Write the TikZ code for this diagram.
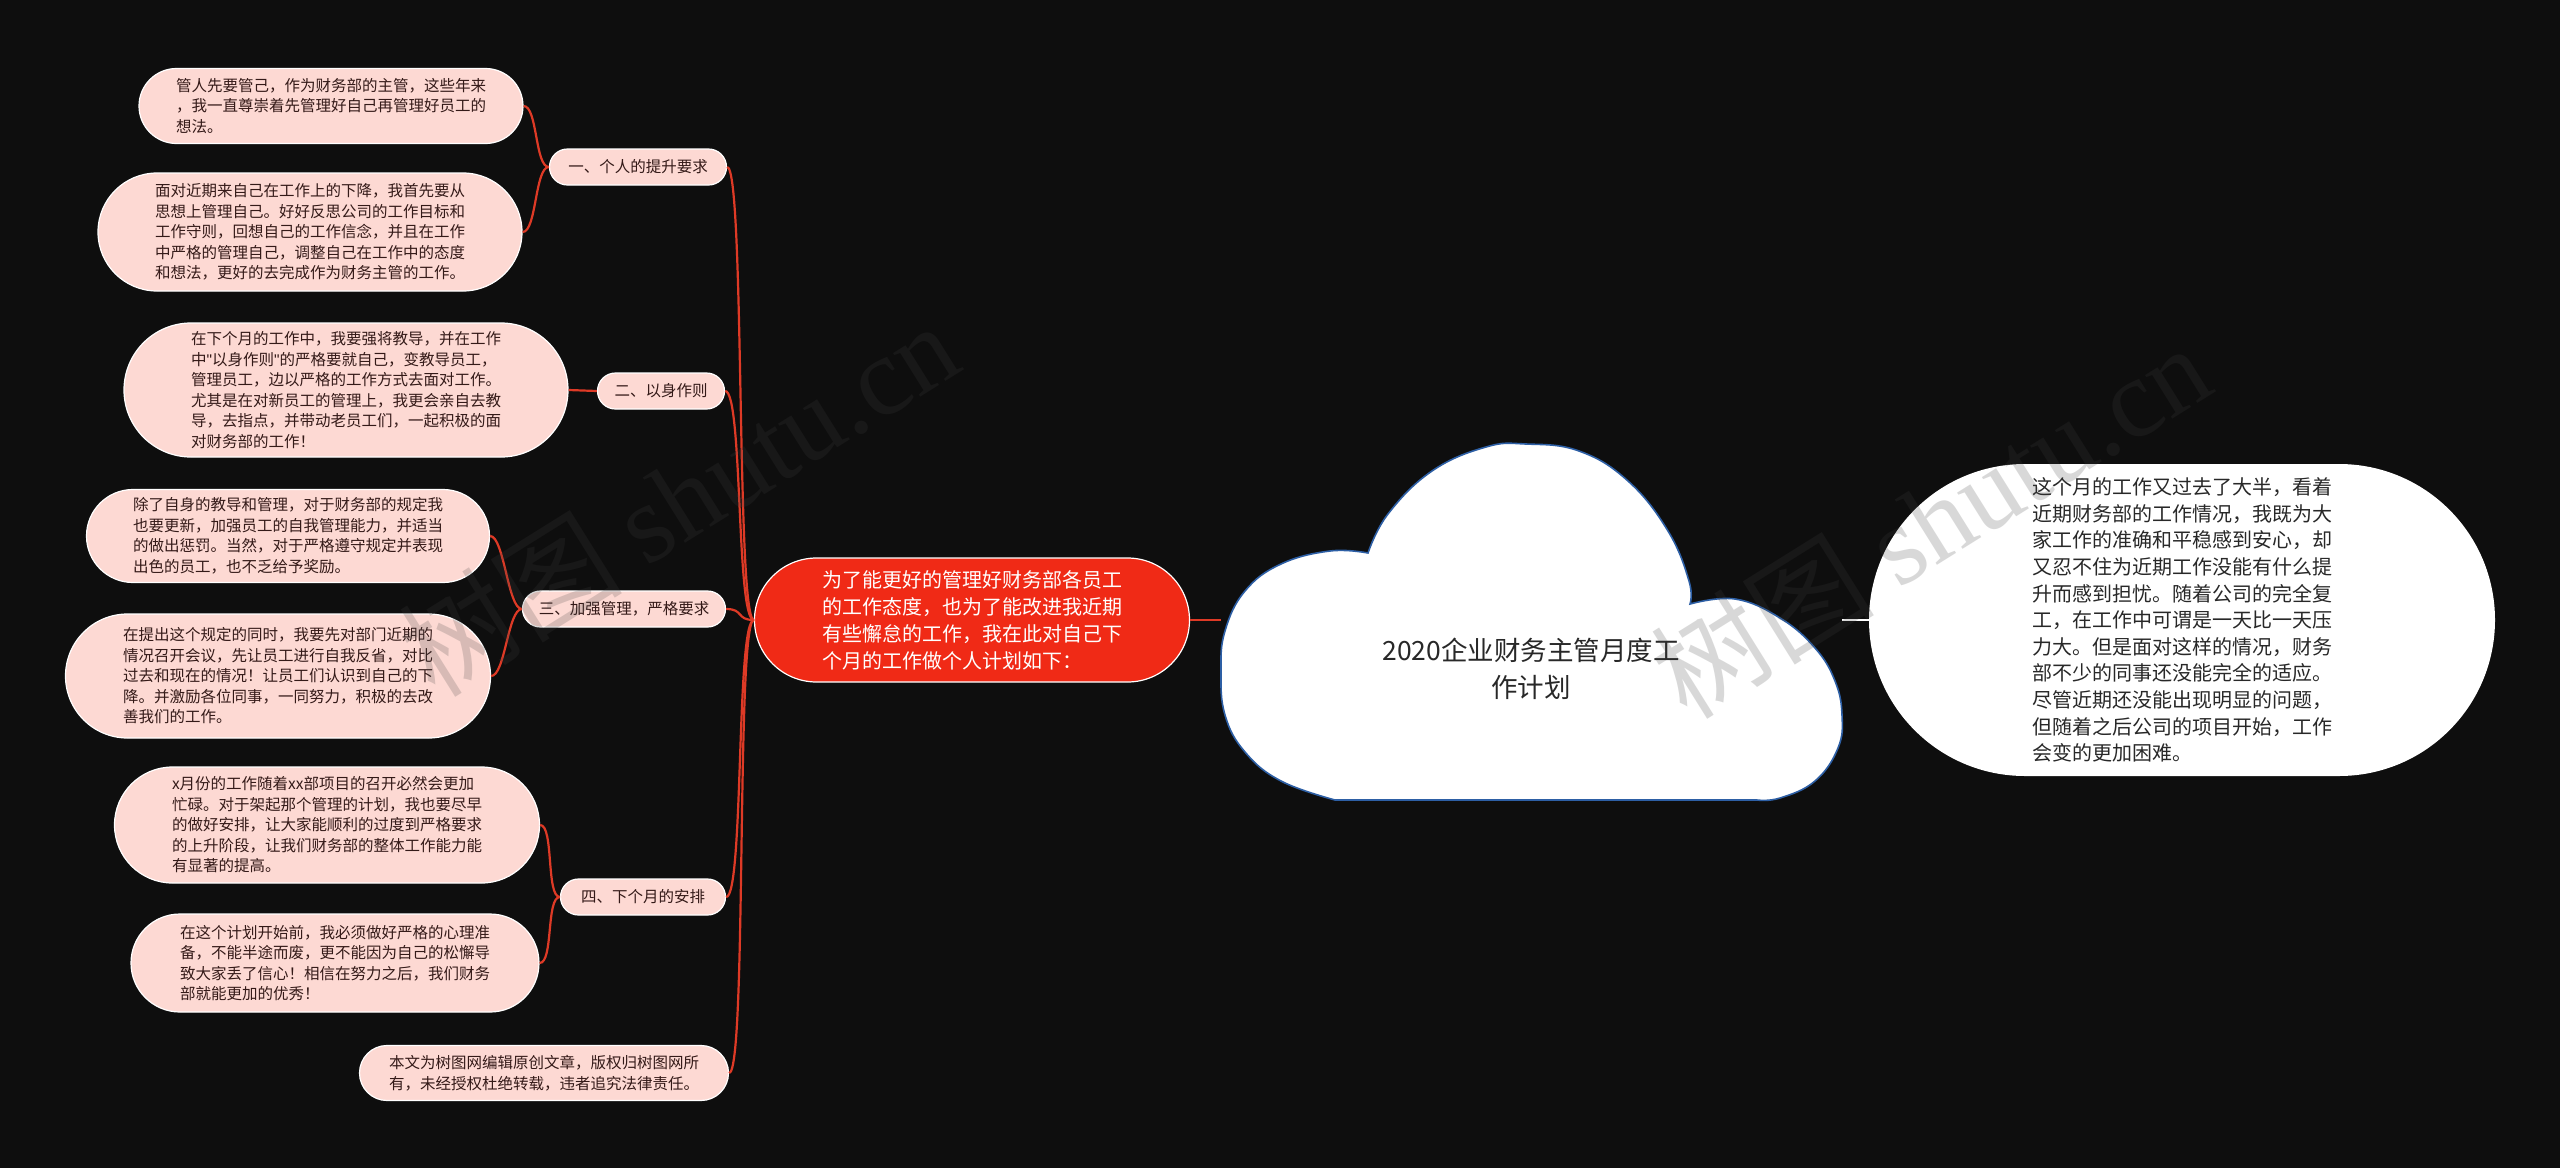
\documentclass[tikz,border=0pt]{standalone}
\usepackage{fontspec}
\setmainfont{Noto Sans CJK SC}
\newfontfamily\wmserif{Liberation Serif}
\newfontfamily\latinsans{Liberation Sans}
\usetikzlibrary{shapes.misc}
\definecolor{bg}{RGB}{14,14,14}
\definecolor{leaffill}{RGB}{253,217,211}
\definecolor{leaftext}{RGB}{52,26,24}
\definecolor{mainred}{RGB}{240,42,22}
\definecolor{linkred}{RGB}{222,58,38}
\definecolor{cloudline}{RGB}{45,95,165}
\definecolor{darktext}{RGB}{40,40,40}
\definecolor{wmgray}{RGB}{64,64,64}
\begin{document}
\begin{tikzpicture}[x=1pt,y=-1pt,
  leaf/.style={rounded rectangle, fill=leaffill, draw=white, line width=1.2pt, text=leaftext, align=left, inner sep=0pt, font=\fontsize{15.5}{20.5}\selectfont},
  sub/.style={leaf, align=center, minimum height=36},
  link/.style={draw=linkred, line width=2.2pt},
  wmark/.style={text=wmgray, opacity=0.2, rotate=32, inner sep=0pt, font=\fontsize{112}{120}\selectfont}
]
\fill[bg] (0,0) rectangle (2560,1168);
\useasboundingbox (0,0) rectangle (2560,1168);

% cloud shape
\filldraw[fill=white, draw=cloudline, line width=1.6pt]
 plot[smooth, tension=0.7] coordinates {(1335,800) (1281,781) (1245,752) (1225,715) (1221,671) (1225,631) (1245,591) (1281,564) (1330,551) (1368,553)}
 -- plot[smooth, tension=0.7] coordinates {(1368,553) (1388,514) (1432,471) (1486,447) (1526,444) (1579,451) (1628,481) (1668,531) (1689,581) (1690,604)}
 -- plot[smooth, tension=0.7] coordinates {(1690,604) (1735,599) (1780,618) (1815,648) (1835,681) (1842,715) (1838,748) (1815,781) (1780,798) (1757,800)}
 -- cycle;
\node[font=\fontsize{26.5}{37}\selectfont, text=darktext, align=center] (title) at (1531,669) {2020企业财务主管月度工\\作计划};
\coordinate (cloudW) at (1221,620);
\coordinate (cloudE) at (1842,620);

% right box
\node[rounded rectangle, fill=white, minimum width=626, minimum height=312, inner sep=0pt, text=darktext, align=left, font=\fontsize{20}{26.6}\selectfont] (rbox) at (2182,620) {这个月的工作又过去了大半，看着\\近期财务部的工作情况，我既为大\\家工作的准确和平稳感到安心，却\\又忍不住为近期工作没能有什么提\\升而感到担忧。随着公司的完全复\\工，在工作中可谓是一天比一天压\\力大。但是面对这样的情况，财务\\部不少的同事还没能完全的适应。\\尽管近期还没能出现明显的问题，\\但随着之后公司的项目开始，工作\\会变的更加困难。};

% main node
\node[rounded rectangle, fill=mainred, draw=white, line width=1.2pt, text=white, align=left, font=\fontsize{20}{27}\selectfont, minimum width=435, minimum height=124, inner sep=0pt] (main) at (972,620) {为了能更好的管理好财务部各员工\\的工作态度，也为了能改进我近期\\有些懈怠的工作，我在此对自己下\\个月的工作做个人计划如下：};

% sub nodes
\node[sub, minimum width=177] (s1) at (638,167) {一、个人的提升要求};
\node[sub, minimum width=127] (s2) at (661,391) {二、以身作则};
\node[sub, minimum width=203] (s3) at (624,609) {三、加强管理，严格要求};
\node[sub, minimum width=165] (s4) at (643,897) {四、下个月的安排};

% leaves
\node[leaf, minimum width=384, minimum height=75] (l1) at (331,106) {管人先要管己，作为财务部的主管，这些年来\\，我一直尊崇着先管理好自己再管理好员工的\\想法。};
\node[leaf, minimum width=424, minimum height=118] (l2) at (310,232) {面对近期来自己在工作上的下降，我首先要从\\思想上管理自己。好好反思公司的工作目标和\\工作守则，回想自己的工作信念，并且在工作\\中严格的管理自己，调整自己在工作中的态度\\和想法，更好的去完成作为财务主管的工作。};
\node[leaf, minimum width=444, minimum height=134] (l3) at (346,390) {在下个月的工作中，我要强将教导，并在工作\\中{\latinsans"}以身作则{\latinsans"}的严格要就自己，变教导员工，\\管理员工，边以严格的工作方式去面对工作。\\尤其是在对新员工的管理上，我更会亲自去教\\导，去指点，并带动老员工们，一起积极的面\\对财务部的工作！};
\node[leaf, minimum width=403, minimum height=93] (l4) at (288,536) {除了自身的教导和管理，对于财务部的规定我\\也要更新，加强员工的自我管理能力，并适当\\的做出惩罚。当然，对于严格遵守规定并表现\\出色的员工，也不乏给予奖励。};
\node[leaf, minimum width=425, minimum height=124] (l5) at (278,676) {在提出这个规定的同时，我要先对部门近期的\\情况召开会议，先让员工进行自我反省，对比\\过去和现在的情况！让员工们认识到自己的下\\降。并激励各位同事，一同努力，积极的去改\\善我们的工作。};
\node[leaf, minimum width=425, minimum height=116] (l6) at (327,825) {x月份的工作随着xx部项目的召开必然会更加\\忙碌。对于架起那个管理的计划，我也要尽早\\的做好安排，让大家能顺利的过度到严格要求\\的上升阶段，让我们财务部的整体工作能力能\\有显著的提高。};
\node[leaf, minimum width=408, minimum height=98] (l7) at (335,963) {在这个计划开始前，我必须做好严格的心理准\\备，不能半途而废，更不能因为自己的松懈导\\致大家丢了信心！相信在努力之后，我们财务\\部就能更加的优秀！};
\node[leaf, minimum width=369, minimum height=55] (l8) at (544,1073) {本文为树图网编辑原创文章，版权归树图网所\\有，未经授权杜绝转载，违者追究法律责任。};

% connectors
\draw[link] (main.east) -- (cloudW);
\draw[draw=white, line width=2.5pt] (cloudE) -- (rbox.west);
\foreach \s in {s1,s2,s3,s4,l8}
  \draw[link] (main.west) .. controls +(-18,0) and +(18,0) .. (\s.east);
\draw[link] (s1.west) .. controls +(-14,0) and +(14,0) .. (l1.east);
\draw[link] (s1.west) .. controls +(-14,0) and +(14,0) .. (l2.east);
\draw[link] (s2.west) .. controls +(-14,0) and +(14,0) .. (l3.east);
\draw[link] (s3.west) .. controls +(-14,0) and +(14,0) .. (l4.east);
\draw[link] (s3.west) .. controls +(-14,0) and +(14,0) .. (l5.east);
\draw[link] (s4.west) .. controls +(-14,0) and +(14,0) .. (l6.east);
\draw[link] (s4.west) .. controls +(-14,0) and +(14,0) .. (l7.east);

% watermarks
\node[wmark] (wm1) at (678,498) {树图 {\wmserif shutu.cn}};
\node[wmark] (wm2) at (1930,520) {树图 {\wmserif shutu.cn}};
\end{tikzpicture}
\end{document}
